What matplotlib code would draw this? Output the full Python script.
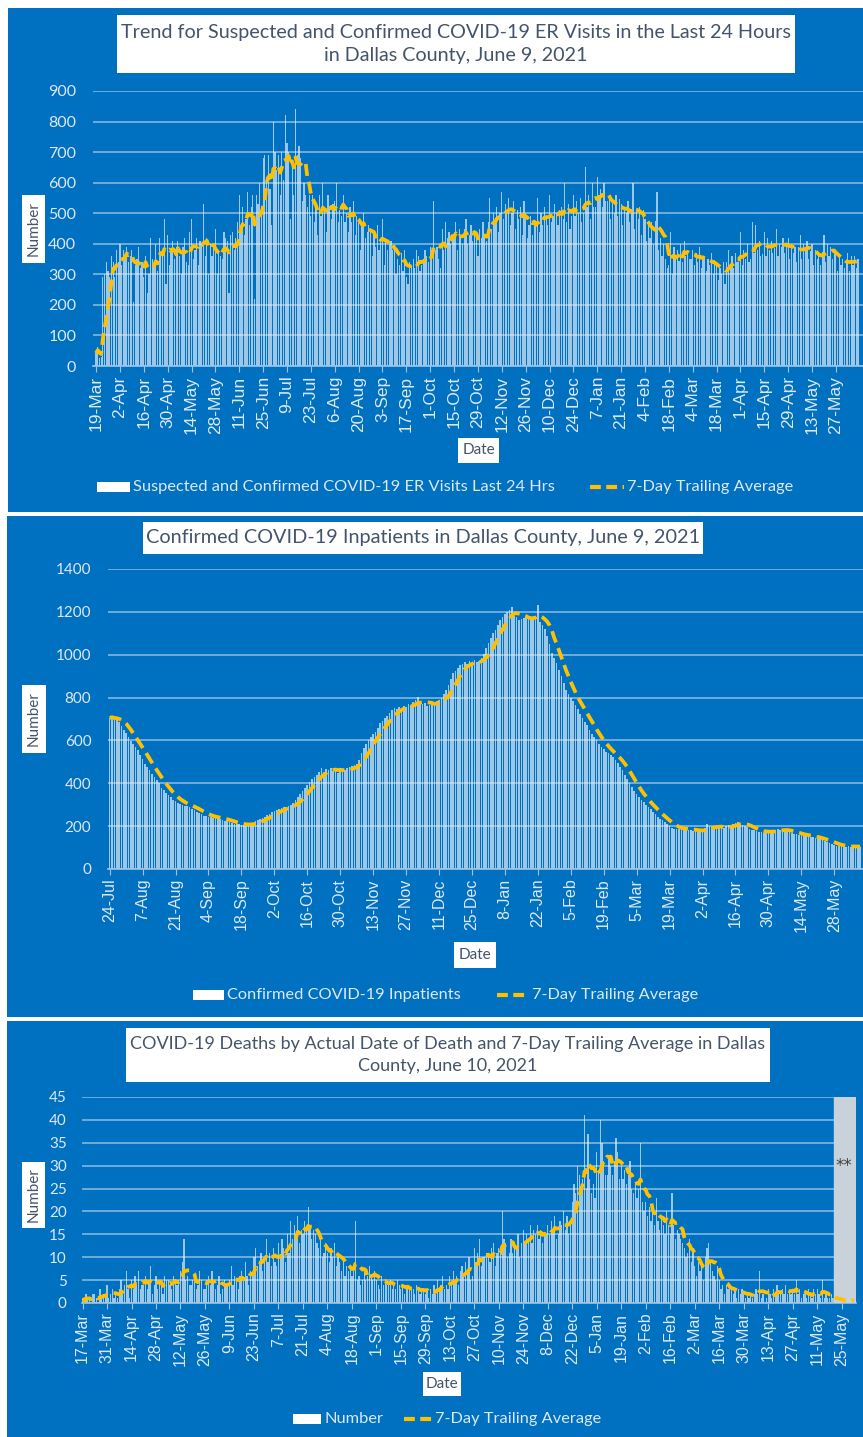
import matplotlib
matplotlib.use("Agg")
import matplotlib.pyplot as plt
from matplotlib.patches import Rectangle
from matplotlib.lines import Line2D
import numpy as np
import pandas as pd

W, H = 863, 1437
BLUE = "#0070C0"
GOLD = "#FFC000"
LIGHT = "#DCE8F4"
TITLE_C = "#44546A"
BAR_C = "#E8F1FA"

# --- ER visits, daily from 19-Mar-2020 ---
er_start = "2020-03-19"
er_visits = [
    42, 62, 25, 28, 290, 300, 340, 310, 290, 360, 340, 290, 380, 340,
    400, 330, 380, 360, 390, 340, 360, 380, 210, 330, 350, 390, 320, 340,
    290, 360, 240, 300, 420, 350, 330, 400, 310, 420, 360, 380, 480, 270,
    430, 330, 380, 410, 350, 390, 410, 360, 300, 390, 420, 340, 330, 440,
    480, 350, 380, 420, 330, 410, 400, 530, 360, 420, 300, 400, 360, 400,
    450, 300, 380, 360, 350, 440, 420, 410, 240, 430, 440, 380, 420, 470,
    560, 460, 520, 430, 480, 570, 460, 520, 560, 220, 560, 530, 600, 510,
    680, 690, 620, 690, 580, 460, 800, 700, 640, 690, 560, 700, 610, 820,
    730, 700, 480, 650, 560, 840, 690, 720, 680, 540, 600, 560, 520, 560,
    490, 560, 470, 520, 430, 560, 490, 600, 520, 440, 560, 520, 480, 530,
    540, 600, 470, 510, 490, 560, 470, 500, 440, 520, 470, 540, 430, 490,
    470, 380, 460, 500, 420, 440, 460, 450, 360, 440, 390, 460, 380, 410,
    480, 330, 420, 380, 400, 410, 380, 380, 300, 350, 330, 370, 310, 380,
    290, 270, 340, 330, 350, 320, 380, 360, 310, 330, 350, 380, 360, 340,
    390, 360, 540, 380, 390, 350, 320, 450, 380, 470, 420, 440, 400, 420,
    420, 470, 380, 450, 430, 400, 450, 480, 400, 430, 460, 410, 440, 420,
    360, 450, 420, 470, 430, 410, 470, 550, 450, 500, 470, 520, 440, 500,
    570, 480, 530, 500, 550, 460, 500, 540, 450, 510, 480, 520, 430, 540,
    500, 420, 460, 490, 430, 470, 460, 550, 440, 500, 460, 520, 480, 460,
    560, 470, 490, 530, 500, 460, 510, 520, 480, 600, 470, 530, 450, 490,
    560, 490, 540, 500, 550, 470, 500, 650, 520, 560, 480, 600, 520, 520,
    620, 560, 580, 520, 600, 540, 540, 560, 480, 540, 500, 560, 490, 545,
    530, 460, 520, 500, 540, 470, 515, 600, 450, 510, 480, 520, 430, 510,
    480, 410, 460, 420, 470, 400, 475, 570, 380, 420, 360, 400, 350, 320,
    330, 440, 300, 390, 350, 380, 345, 400, 340, 410, 360, 380, 350, 350,
    380, 330, 370, 340, 390, 320, 360, 360, 310, 350, 330, 370, 300, 346,
    330, 280, 320, 300, 340, 270, 340, 380, 330, 360, 320, 370, 340, 340,
    440, 330, 380, 350, 400, 340, 350, 470, 370, 460, 380, 410, 360, 365,
    440, 360, 420, 380, 410, 370, 385, 450, 360, 400, 390, 420, 370, 396,
    420, 350, 400, 370, 390, 340, 390, 430, 350, 400, 380, 410, 350, 375,
    400, 330, 380, 350, 370, 330, 374, 430, 340, 400, 360, 390, 350, 376,
    380, 310, 360, 330, 350, 320, 344, 370, 310, 360, 330, 360, 320, 351,
]

# --- confirmed inpatients, daily from 24-Jul-2020 ---
inpat_start = "2020-07-24"
inpatients = [
    705, 712, 698, 700, 688, 668, 650, 635, 615, 598,
    585, 570, 555, 530, 515, 492, 478, 460, 445, 430,
    415, 400, 380, 367, 355, 345, 335, 323, 318, 310,
    305, 300, 296, 292, 289, 282, 275, 268, 262, 255,
    248, 246, 244, 242, 240, 238, 236, 234, 230, 226,
    222, 218, 215, 211, 210, 208, 207, 206, 205, 208,
    212, 217, 222, 227, 233, 239, 245, 252, 259, 266,
    272, 276, 280, 284, 288, 290, 292, 300, 310, 322,
    336, 350, 365, 380, 393, 406, 418, 430, 440, 452,
    470, 455, 468, 460, 472, 458, 466, 450, 470, 455,
    462, 470, 476, 480, 486, 492, 510, 540, 565, 585,
    602, 618, 630, 640, 660, 680, 692, 705, 715, 728,
    742, 750, 745, 758, 752, 760, 755, 770, 765, 778,
    790, 805, 772, 768, 775, 760, 766, 780, 770, 785,
    789, 800, 815, 836, 860, 885, 914, 925, 940, 950,
    958, 965, 955, 970, 962, 975, 968, 969, 985, 1005,
    1031, 1055, 1080, 1100, 1117, 1140, 1160, 1175, 1188, 1200,
    1210, 1225, 1183, 1175, 1160, 1167, 1172, 1178, 1180, 1165,
    1170, 1180, 1232, 1152, 1140, 1120, 1086, 1050, 1010, 985,
    961, 930, 900, 870, 836, 818, 800, 785, 766, 745,
    725, 705, 688, 670, 650, 630, 617, 600, 585, 570,
    558, 548, 540, 530, 523, 510, 495, 478, 461, 440,
    420, 400, 383, 365, 350, 335, 322, 312, 300, 288,
    278, 266, 255, 245, 235, 227, 218, 210, 200, 192,
    188, 186, 185, 190, 188, 188, 184, 180, 178, 176,
    177, 180, 185, 190, 210, 200, 195, 198, 192, 195,
    195, 190, 200, 205, 200, 210, 215, 220, 211, 205,
    200, 195, 185, 183, 180, 178, 175, 172, 170, 172,
    175, 178, 180, 182, 185, 183, 180, 183, 178, 172,
    168, 165, 162, 159, 158, 156, 155, 153, 150, 148,
    145, 142, 138, 134, 130, 125, 120, 116, 112, 109,
    107, 106, 105, 104, 106, 105, 104, 106, 105, 104,
]

# --- deaths by date of death, daily from 17-Mar-2020 ---
death_start = "2020-03-17"
deaths = [
    1, 0, 2, 1, 1, 0, 2, 2, 1, 0, 3, 1, 2, 2,
    4, 1, 2, 3, 1, 2, 1, 3, 5, 2, 4, 7, 3, 1,
    5, 3, 6, 4, 7, 3, 4, 4, 6, 3, 5, 8, 2, 4,
    6, 3, 5, 4, 2, 6, 5, 5, 4, 3, 6, 5, 4, 5,
    7, 9, 14, 5, 6, 4, 4, 5, 6, 3, 4, 7, 5, 3,
    3, 5, 6, 4, 7, 5, 3, 4, 6, 2, 3, 5, 4, 4,
    5, 8, 4, 6, 5, 3, 6, 7, 5, 9, 6, 4, 7, 6,
    10, 12, 8, 9, 11, 7, 10, 14, 9, 11, 8, 12, 9, 8,
    13, 10, 14, 12, 9, 15, 11, 18, 14, 17, 15, 19, 13, 16,
    15, 18, 16, 21, 17, 14, 16, 15, 13, 12, 14, 10, 11, 13,
    11, 9, 12, 10, 13, 8, 11, 9, 7, 10, 6, 8, 7, 8,
    6, 7, 18, 5, 6, 4, 5, 7, 5, 6, 8, 6, 5, 7,
    5, 4, 3, 6, 4, 5, 4, 4, 5, 3, 4, 3, 5, 4,
    3, 4, 2, 3, 4, 3, 3, 3, 2, 4, 3, 2, 3, 3,
    2, 3, 1, 3, 2, 4, 2, 5, 3, 4, 6, 3, 4, 3,
    6, 4, 7, 5, 6, 4, 7, 8, 6, 9, 7, 10, 5, 6,
    12, 9, 11, 14, 8, 10, 10, 11, 10, 9, 12, 13, 8, 11,
    12, 11, 20, 14, 13, 10, 11, 14, 11, 13, 12, 15, 10, 13,
    16, 13, 15, 14, 17, 13, 16, 15, 17, 14, 16, 13, 15, 15,
    17, 15, 18, 16, 19, 14, 15, 18, 17, 20, 16, 19, 15, 18,
    22, 26, 24, 30, 28, 25, 27, 41, 25, 37, 27, 24, 26, 23,
    33, 29, 40, 35, 31, 28, 28, 32, 30, 28, 31, 36, 33, 27,
    30, 27, 29, 26, 28, 31, 25, 24, 26, 23, 25, 35, 22, 20,
    22, 19, 21, 18, 20, 17, 23, 18, 16, 19, 17, 15, 20, 17,
    15, 24, 17, 14, 16, 15, 14, 13, 12, 10, 11, 14, 9, 12,
    8, 6, 9, 7, 8, 5, 10, 12, 13, 9, 7, 6, 5, 8,
    5, 3, 4, 2, 4, 3, 4, 3, 2, 3, 1, 3, 2, 3,
    2, 1, 2, 1, 2, 1, 2, 3, 2, 7, 1, 2, 0, 1,
    3, 2, 1, 3, 2, 4, 2, 2, 3, 2, 4, 2, 3, 2,
    3, 2, 5, 2, 3, 1, 2, 2, 1, 3, 2, 1, 3, 2,
    3, 2, 1, 5, 1, 2, 1, 1, 2, 1, 0, 1, 1, 0,
    1, 0, 1, 0, 1, 0, 1, 0,
]
# last days still incomplete (grey band with "**")
death_pending = ("2021-05-21", "2021-06-01")


def fx(x):
    return x / W


def fy(y):
    return 1 - y / H


def fig_rect(fig, x0, y0, x1, y1, color, z=0):
    fig.add_artist(Rectangle((fx(x0), fy(y1)), (x1 - x0) / W, (y1 - y0) / H,
                             transform=fig.transFigure, facecolor=color, edgecolor="none", zorder=z))


def label_box(fig, x0, y0, x1, y1, text, size, rotation=0):
    fig_rect(fig, x0, y0, x1, y1, "white", z=2)
    fig.text(fx((x0 + x1) / 2), fy((y0 + y1) / 2), text, ha="center", va="center", rotation=rotation,
             fontsize=size, family="Lato", color=TITLE_C, zorder=3, linespacing=1.45)


def legend(fig, y, box, box_text, dash, dash_text, size):
    fig_rect(fig, box[0], y - 5, box[1], y + 5, "white", z=2)
    fig.text(fx(box[1] + 3), fy(y), box_text, ha="left", va="center", fontsize=size,
             family="Lato", color=LIGHT, zorder=3)
    fig.add_artist(Line2D([fx(dash[0]), fx(dash[1])], [fy(y), fy(y)], transform=fig.transFigure,
                          color=GOLD, lw=3, dashes=(2.6, 1.3), zorder=3))
    fig.text(fx(dash[1] + 3), fy(y), dash_text, ha="left", va="center", fontsize=size,
             family="Lato", color=LIGHT, zorder=3)


def panel(fig, box, values, start, xlim, ylim, ystep, xsize, ysize, ypad):
    left, top, right, bottom = box
    ax = fig.add_axes([fx(left), fy(bottom), (right - left) / W, (bottom - top) / H])
    ax.set_facecolor("none")
    x = np.arange(len(values))
    ax.bar(x, values, width=0.7, color=BAR_C, alpha=0.68, linewidth=0, zorder=2)
    avg = pd.Series(values, dtype=float).rolling(7, min_periods=1).mean()
    ax.plot(x, avg, color=GOLD, lw=2.7, dashes=(3.2, 1.6), zorder=5)

    ax.set_xlim(*xlim)
    ax.set_ylim(*ylim)
    ticks = np.arange(0, len(values), 14)
    dates = pd.date_range(start, periods=len(values))
    labels = [f"{d.day}-{d.strftime('%b')}" for d in dates[ticks]]
    ax.set_xticks(ticks, labels, rotation=90, family="Liberation Sans", fontsize=xsize, color=LIGHT)
    yt = np.arange(ylim[0], ylim[1] + 1, ystep)
    ax.set_yticks(yt, [str(v) for v in yt], family="Lato", fontsize=ysize, color=LIGHT)
    ax.tick_params(axis="x", length=4, color="#9DC3E6", pad=3)
    ax.tick_params(axis="y", length=0, pad=ypad)
    ax.yaxis.grid(True, color="white", alpha=0.5, lw=1.2, zorder=1)
    ax.set_axisbelow(True)
    for s in ("left", "right", "top"):
        ax.spines[s].set_visible(False)
    ax.spines["bottom"].set_color("#9DC3E6")
    ax.spines["bottom"].set_linewidth(1.2)
    return ax, dates


fig = plt.figure(figsize=(W / 100, H / 100), dpi=100)
fig.patch.set_facecolor("white")

# blue panel backgrounds
fig_rect(fig, 8, 8, 863, 512, BLUE)
fig_rect(fig, 7, 516, 863, 1017, BLUE)
fig_rect(fig, 7, 1021, 863, 1437, BLUE)

# panel 1: ER visits
panel(fig, (93, 91, 863, 366), er_visits, er_start, (-1.8, 449.9), (0, 900), 100, 12.5, 11.5, 12)
label_box(fig, 117, 15, 795, 73,
          "Trend for Suspected and Confirmed COVID-19 ER Visits in the Last 24 Hours\n"
          "in Dallas County, June 9, 2021", 14.2)
label_box(fig, 22, 195, 45, 263, "Number", 11, rotation=90)
label_box(fig, 458, 438, 499, 463, "Date", 11)
legend(fig, 487, (97, 130), "Suspected and Confirmed COVID-19 ER Visits Last 24 Hrs",
       (590, 624), "7-Day Trailing Average", 11.8)

# panel 2: inpatients
panel(fig, (108, 569, 863, 869), inpatients, inpat_start, (-0.7, 320.2), (0, 1400), 200, 11.5, 11, 12)
label_box(fig, 143, 522, 703, 554, "Confirmed COVID-19 Inpatients in Dallas County, June 9, 2021", 14.3)
label_box(fig, 22, 685, 46, 753, "Number", 11, rotation=90)
label_box(fig, 454, 942, 496, 968, "Date", 11)
legend(fig, 995, (193, 224), "Confirmed COVID-19 Inpatients",
       (497, 529), "7-Day Trailing Average", 11.8)

# panel 3: deaths
ax3, d3 = panel(fig, (82, 1097, 856, 1303), deaths, death_start, (-0.3, 442.2), (0, 45), 5, 11.5, 11, 11)
p0 = d3.get_loc(pd.Timestamp(death_pending[0]))
p1 = d3.get_loc(pd.Timestamp(death_pending[1]))
ax3.axvspan(p0 - 0.5, p1 + 0.5, color="#C9D2DA", zorder=3)
ax3.text((p0 + p1) / 2, 30, "**", ha="center", va="center", fontsize=12, color="#404040", zorder=6)
label_box(fig, 126, 1028, 770, 1082,
          "COVID-19 Deaths by Actual Date of Death and 7-Day Trailing Average in Dallas\n"
          "County, June 10, 2021", 13)
label_box(fig, 22, 1162, 45, 1228, "Number", 11, rotation=90)
label_box(fig, 423, 1372, 461, 1396, "Date", 11)
legend(fig, 1419, (293, 321), "Number", (404, 432), "7-Day Trailing Average", 11.8)

fig.savefig("out.png", dpi=100, facecolor="white")
